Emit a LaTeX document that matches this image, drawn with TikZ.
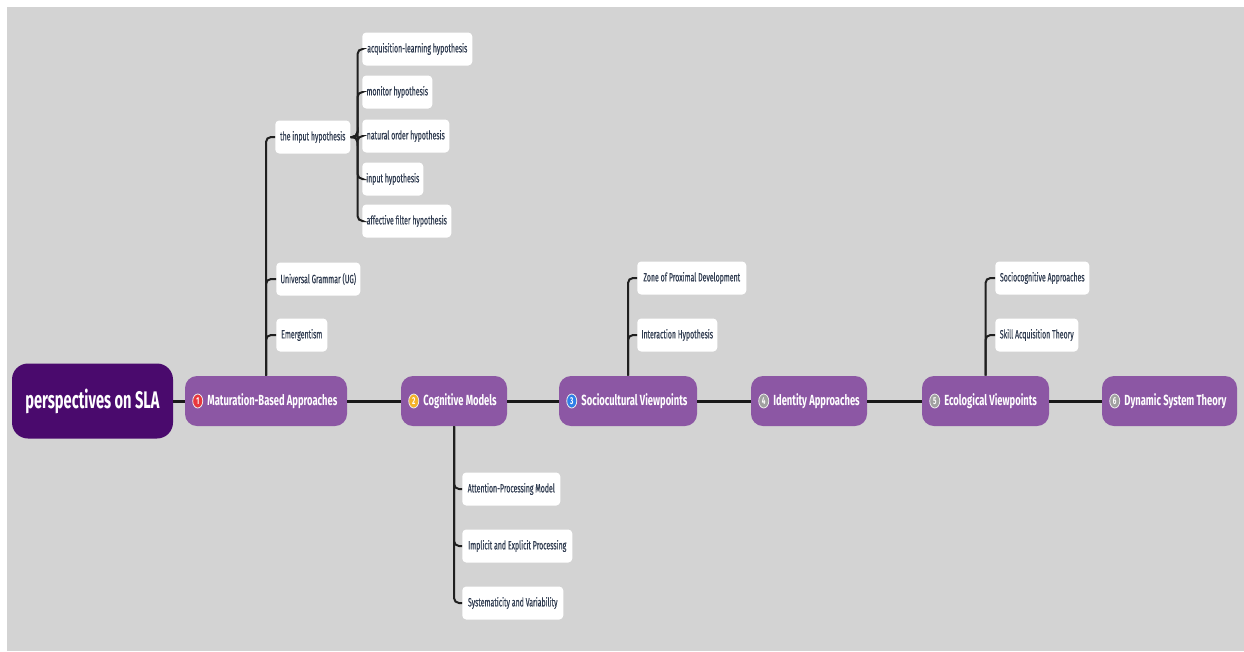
\documentclass[tikz,border=0pt]{standalone}
\usepackage{fontspec}
\setmainfont{Fira Sans}[FakeStretch=0.72]
\newfontfamily\subf{Fira Sans}[FakeStretch=0.58,FakeBold=0.3]
\newfontfamily\mainf{Fira Sans}[FakeStretch=0.64]
\newfontfamily\rootf{Fira Sans}[FakeStretch=0.61]
\usetikzlibrary{shapes.geometric,calc}
\definecolor{bggray}{HTML}{D3D3D3}
\definecolor{rootpurple}{HTML}{4A0A6D}
\definecolor{mainpurple}{HTML}{8C57A4}
\definecolor{subtext}{HTML}{2E3A4F}
\definecolor{mkred}{HTML}{E8383D}
\definecolor{mkorange}{HTML}{F4B22A}
\definecolor{mkblue}{HTML}{2F7FE8}
\definecolor{mkgray}{HTML}{A0A0A0}
\def\px{0.75pt}
\tikzset{
  rootbox/.style={fill=rootpurple, rounded corners=16*\px, minimum width=161*\px, minimum height=75*\px, inner sep=0pt, text=white, font=\rootf\fontsize{18}{20}\selectfont\bfseries},
  mainbox/.style={fill=mainpurple, rounded corners=12*\px, minimum height=50*\px, inner sep=0pt},
  maintext/.style={text=white, font=\mainf\fontsize{11}{12}\selectfont\bfseries, inner sep=0pt, anchor=west},
  marker/.style={ellipse, draw=white!85!gray, line width=0.6pt, minimum width=10*\px, minimum height=14*\px, inner sep=0pt, text=white, font=\mainf\fontsize{7.5}{7.5}\selectfont\bfseries},
  subbox/.style={fill=white, rounded corners=4*\px, minimum height=33*\px, inner sep=0pt, anchor=west, text=subtext, font=\subf\fontsize{9}{10}\selectfont},
  mainline/.style={draw=black!90, line width=3*\px},
  brline/.style={draw=black!88, line width=2*\px, rounded corners=5*\px},
}
\begin{document}
\begin{tikzpicture}[x=0.75pt, y=-0.75pt]
\useasboundingbox (0,0) rectangle (1244,651);
\fill[white] (0,0) rectangle (1244,651);
\fill[bggray] (7,7) rectangle (1244,651);

% main nodes
\node[rootbox] (root) at (92.5,401) {perspectives on SLA};
\node[mainbox, minimum width=162*\px] (m1) at (266,401) {};
\node[mainbox, minimum width=106*\px] (m2) at (454,401) {};
\node[mainbox, minimum width=138*\px] (m3) at (628,401) {};
\node[mainbox, minimum width=116*\px] (m4) at (809,401) {};
\node[mainbox, minimum width=127*\px] (m5) at (985.5,401) {};
\node[mainbox, minimum width=135*\px] (m6) at (1169.5,401) {};

% connectors main line
\draw[mainline] (root.east) -- (m1.west);
\draw[mainline] (m1.east) -- (m2.west);
\draw[mainline] (m2.east) -- (m3.west);
\draw[mainline] (m3.east) -- (m4.west);
\draw[mainline] (m4.east) -- (m5.west);
\draw[mainline] (m5.east) -- (m6.west);

% markers and labels
\node[marker, fill=mkred] (k1) at ([xshift=13*\px]m1.west) {1};
\node[maintext] (t1) at ([xshift=4*\px]k1.east) {Maturation-Based Approaches};
\node[marker, fill=mkorange] (k2) at ([xshift=13*\px]m2.west) {2};
\node[maintext] (t2) at ([xshift=4*\px]k2.east) {Cognitive Models};
\node[marker, fill=mkblue] (k3) at ([xshift=13*\px]m3.west) {3};
\node[maintext] (t3) at ([xshift=4*\px]k3.east) {Sociocultural Viewpoints};
\node[marker, fill=mkgray] (k4) at ([xshift=13*\px]m4.west) {4};
\node[maintext] (t4) at ([xshift=4*\px]k4.east) {Identity Approaches};
\node[marker, fill=mkgray] (k5) at ([xshift=13*\px]m5.west) {5};
\node[maintext] (t5) at ([xshift=4*\px]k5.east) {Ecological Viewpoints};
\node[marker, fill=mkgray] (k6) at ([xshift=13*\px]m6.west) {6};
\node[maintext] (t6) at ([xshift=4*\px]k6.east) {Dynamic System Theory};

% Maturation children
\node[subbox, minimum width=75*\px] (ih) at (275,137) {the input hypothesis};
\node[subbox, minimum width=84*\px] (ug) at (276,279) {Universal Grammar (UG)};
\node[subbox, minimum width=51*\px] (em) at (276,335) {Emergentism};
\draw[brline] (m1.north) |- (ih.west);
\draw[brline] (m1.north) |- (ug.west);
\draw[brline] (m1.north) |- (em.west);

% input hypothesis children
\node[subbox, minimum width=110*\px] (h1) at (362,49) {acquisition-learning hypothesis};
\node[subbox, minimum width=70*\px] (h2) at (362,92) {monitor hypothesis};
\node[subbox, minimum width=87*\px] (h3) at (362,136) {natural order hypothesis};
\node[subbox, minimum width=61*\px] (h4) at (362,179) {input hypothesis};
\node[subbox, minimum width=89*\px] (h5) at (362,221) {affective filter hypothesis};
\foreach \h in {h1,h2,h3,h4,h5}{
  \draw[brline] (ih.east) -- ++(7,0) |- (\h.west);
}

% Cognitive children
\node[subbox, minimum width=98*\px] (c1) at (462,489) {Attention-Processing Model};
\node[subbox, minimum width=110*\px] (c2) at (462,546) {Implicit and Explicit Processing};
\node[subbox, minimum width=101*\px] (c3) at (462,603) {Systematicity and Variability};
\foreach \c in {c1,c2,c3}{
  \draw[brline] (m2.south) |- (\c.west);
}

% Sociocultural children
\node[subbox, minimum width=109*\px] (s1) at (637,278) {Zone of Proximal Development};
\node[subbox, minimum width=80*\px] (s2) at (637,335) {Interaction Hypothesis};
\foreach \s in {s1,s2}{
  \draw[brline] (m3.north) |- (\s.west);
}

% Ecological children
\node[subbox, minimum width=94*\px] (e1) at (995,278) {Sociocognitive Approaches};
\node[subbox, minimum width=83*\px] (e2) at (995,335) {Skill Acquisition Theory};
\foreach \e in {e1,e2}{
  \draw[brline] (m5.north) |- (\e.west);
}
\end{tikzpicture}
\end{document}
